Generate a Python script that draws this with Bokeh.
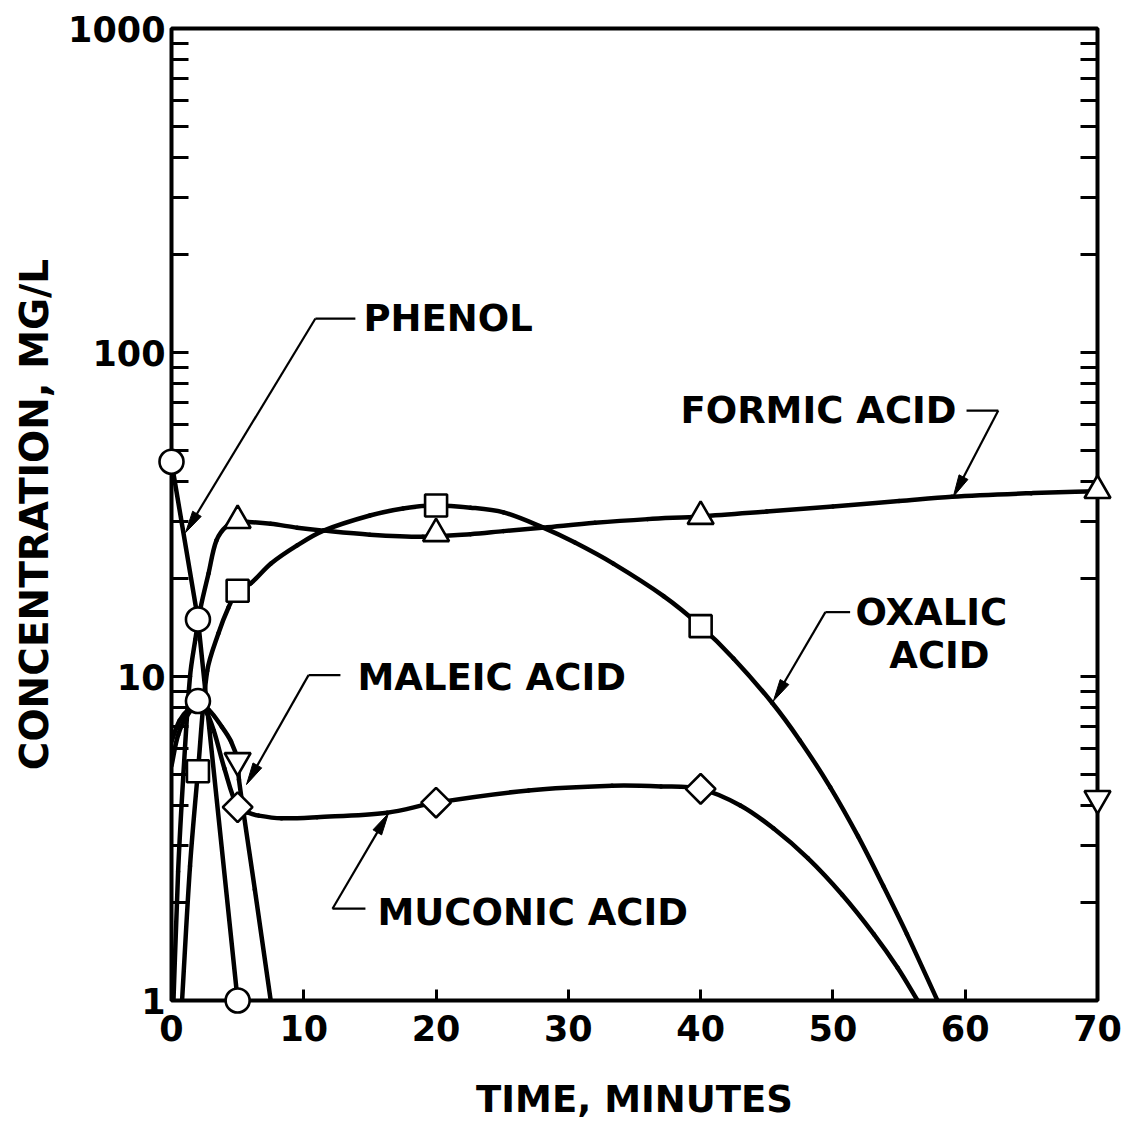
import numpy as np
from bokeh.plotting import figure
from bokeh.models import LogAxis, FixedTicker, PrintfTickFormatter, Range1d
from bokeh.core.properties import value
from bokeh.embed import file_html
from bokeh.resources import INLINE

# ---------------- data ----------------
time_ticks = [0, 10, 20, 30, 40, 50, 60, 70]
conc_ticks = [1, 10, 100, 1000]
conc_minor = [2, 3, 4, 5, 6, 7, 8, 9, 20, 30, 40, 50, 60, 70, 80, 90,
              200, 300, 400, 500, 600, 700, 800, 900]

# measured points (markers)
phenol_t = [0, 2, 5]
phenol_c = [46, 15, 1]
extra_circle_t = [2]
extra_circle_c = [8.4]
formic_t = [5, 20, 40, 70]
formic_c = [30.3, 27.6, 31.2, 37.5]
oxalic_t = [2, 5, 20, 40]
oxalic_c = [5.1, 18.4, 33.7, 14.3]
maleic_t = [5, 70]
maleic_c = [5.5, 4.2]
muconic_t = [5, 20, 40]
muconic_c = [3.95, 4.08, 4.5]

# curves
phenol_curve_t = [0, 2, 5]
phenol_curve_c = [46, 15, 1]
formic_curve_t = [0.15, 0.5, 0.9, 1.4, 1.8, 2.2, 2.8, 3.4, 4.2, 5, 5.8, 7.5, 9.5, 11.5,
                  15, 19, 22.6, 25.1, 28.1, 32, 36, 40, 45, 50, 55, 59, 65, 70]
formic_curve_c = [1, 2.5, 5, 10, 13, 16.3, 20.8, 26.3, 29.2, 30.0, 30.0, 29.6, 28.8, 28.2,
                  27.4, 27.0, 27.5, 28.1, 28.8, 29.8, 30.6, 31.2, 32.3, 33.5, 34.8, 35.9, 36.8, 37.3]
oxalic_curve_t = [0.8, 1.4, 2, 2.7, 3.55, 4.3, 5, 6, 7.5, 9.5, 11.5, 15, 17.5, 19.8, 22.6,
                  25.1, 28.1, 30.5, 33.4, 37.2, 40, 42.5, 45.4, 47.5, 49.8, 51.9, 53.8, 55.6, 57.9]
oxalic_curve_c = [1, 2.6, 5.1, 10.4, 13.6, 16.3, 18.4, 19.4, 22.3, 25.4, 28.2, 31.4, 33.0, 33.7, 33.2,
                  32.1, 28.8, 25.9, 22.3, 17.7, 14.3, 11.35, 8.3, 6.35, 4.55, 3.21, 2.26, 1.6, 1]
muconic_curve_t = [0, 0.5, 1.2, 2.0, 2.6, 3.2, 4.0, 5, 5.8, 6.6, 8.3, 11, 16.3, 20,
                   27, 33.3, 37, 40, 43, 45.5, 48.1, 50.7, 53.1, 54.9, 56.4]
muconic_curve_c = [5.3, 6.6, 7.6, 8.1, 7.8, 6.8, 5.2, 3.95, 3.8, 3.72, 3.65, 3.68, 3.8, 4.08,
                   4.45, 4.6, 4.58, 4.5, 4.0, 3.4, 2.75, 2.12, 1.6, 1.26, 1]
maleic_curve_t = [0, 0.6, 1.4, 2.0, 2.8, 3.8, 4.5, 5, 5.1, 6.3, 7.5]
maleic_curve_c = [6.3, 7.3, 8.0, 8.2, 7.9, 7.0, 6.3, 5.5, 4.8, 2.2, 1]

# ---------------- figure ----------------
W, H = 1126, 1124
BL, BR, BT, BB = 171, 29, 28, 124
FW, FH = W - BL - BR, H - BT - BB
XMAX = 70
DEC = 3

p = figure(width=W, height=H, x_range=Range1d(0, XMAX), y_range=Range1d(1, 1000),
           y_axis_type="log", output_backend="svg", toolbar_location=None,
           min_border_left=BL, min_border_right=BR, min_border_top=BT, min_border_bottom=BB)
p.grid.visible = False
p.background_fill_color = "white"
p.border_fill_color = "white"
p.outline_line_color = "black"
p.outline_line_width = 4

FONT = "DejaVu Sans"


def to_px(t, c):
    return np.asarray(t, float) / XMAX * FW, np.log10(np.asarray(c, float)) / DEC * FH


def to_data(X, Y):
    return np.asarray(X, float) / FW * XMAX, 10 ** (np.asarray(Y, float) / FH * DEC)


# bottom axis
xa = p.xaxis[0]
xa.ticker = FixedTicker(ticks=time_ticks, minor_ticks=[])
xa.axis_line_color = None
xa.major_tick_in = 11
xa.major_tick_out = 0
xa.major_tick_line_width = 3
xa.major_label_text_font = FONT
xa.major_label_text_font_style = "bold"
xa.major_label_text_font_size = "35px"
xa.major_label_text_color = "black"
xa.major_label_standoff = 14
xa.axis_label = "TIME, MINUTES"
xa.axis_label_text_font = FONT
xa.axis_label_text_font_style = "bold"
xa.axis_label_text_font_size = "37px"
xa.axis_label_text_color = "black"
xa.axis_label_standoff = 34

# left axis
ya = p.yaxis[0]
ya.ticker = FixedTicker(ticks=conc_ticks, minor_ticks=conc_minor)
ya.formatter = PrintfTickFormatter(format="%d")
ya.axis_line_color = None
ya.major_tick_in = 17
ya.major_tick_out = 0
ya.minor_tick_in = 17
ya.minor_tick_out = 0
ya.major_tick_line_width = 3
ya.minor_tick_line_width = 3
ya.major_label_text_font = FONT
ya.major_label_text_font_style = "bold"
ya.major_label_text_font_size = "35px"
ya.major_label_text_color = "black"
ya.major_label_standoff = 6
ya.axis_label = "CONCENTRATION, MG/L"
ya.axis_label_text_font = FONT
ya.axis_label_text_font_style = "bold"
ya.axis_label_text_font_size = "39px"
ya.axis_label_text_color = "black"
ya.axis_label_standoff = 8

# right axis (ticks only)
ra = LogAxis(ticker=FixedTicker(ticks=conc_ticks, minor_ticks=conc_minor))
ra.axis_line_color = None
ra.major_tick_in = 17
ra.major_tick_out = 0
ra.minor_tick_in = 17
ra.minor_tick_out = 0
ra.major_tick_line_width = 3
ra.minor_tick_line_width = 3
ra.major_label_text_font_size = "1px"
ra.major_label_text_alpha = 0
p.add_layout(ra, "right")

# ---------------- curves ----------------
LW = 4.5


def smooth_bezier(tt, cc):
    X, Y = to_px(tt, cc)
    P = np.stack([X, Y], 1)
    n = len(P)
    d = np.hypot(*(P[1:] - P[:-1]).T)
    m = np.zeros_like(P)
    m[0] = (P[1] - P[0]) / d[0]
    m[-1] = (P[-1] - P[-2]) / d[-1]
    for i in range(1, n - 1):
        m[i] = (P[i + 1] - P[i - 1]) / (d[i - 1] + d[i])
    c1 = P[:-1] + m[:-1] * d[:, None] / 3
    c2 = P[1:] - m[1:] * d[:, None] / 3
    x0, y0 = to_data(P[:-1, 0], P[:-1, 1])
    x1, y1 = to_data(P[1:, 0], P[1:, 1])
    cx0, cy0 = to_data(c1[:, 0], c1[:, 1])
    cx1, cy1 = to_data(c2[:, 0], c2[:, 1])
    p.bezier(x0=x0, y0=y0, x1=x1, y1=y1, cx0=cx0, cy0=cy0, cx1=cx1, cy1=cy1,
             line_color="black", line_width=LW, line_cap="round")


p.line(phenol_curve_t, phenol_curve_c, line_color="black", line_width=LW,
       line_join="round", line_cap="round")
for tt, cc in [(formic_curve_t, formic_curve_c), (oxalic_curve_t, oxalic_curve_c),
               (muconic_curve_t, muconic_curve_c), (maleic_curve_t, maleic_curve_c)]:
    smooth_bezier(tt, cc)

# ---------------- annotations (leader lines with arrows) ----------------
leaders = [
    # elbow_t, elbow_c, bar_end_t, tip_t, tip_c
    (10.88, 127.3, 13.9, 1.06, 27.8),     # phenol
    (62.5, 66.2, 60.1, 59.1, 35.9),       # formic
    (49.43, 15.8, 51.3, 45.5, 8.4),       # oxalic
    (10.36, 10.1, 12.77, 5.67, 4.64),     # maleic
    (12.17, 1.92, 14.66, 16.4, 3.78),     # muconic
]
heads_x, heads_y = [], []
for et, ec, bt, tt, tc in leaders:
    p.line([bt, et], [ec, ec], line_color="black", line_width=2.2)
    ex, ey = to_px(et, ec)
    tx, ty = to_px(tt, tc)
    dv = np.array([tx - ex, ty - ey])
    dv = dv / np.hypot(*dv)
    nv = np.array([-dv[1], dv[0]])
    L, w = 22, 5
    bx, by = tx - dv[0] * L, ty - dv[1] * L
    bt_, bc_ = to_data(bx + dv[0] * 2, by + dv[1] * 2)
    p.line([et, float(bt_)], [ec, float(bc_)], line_color="black", line_width=2.2)
    hx = [tx, bx + nv[0] * w, bx - nv[0] * w]
    hy = [ty, by + nv[1] * w, by - nv[1] * w]
    dx_, dy_ = to_data(hx, hy)
    heads_x.append(list(dx_))
    heads_y.append(list(dy_))
p.patches(heads_x, heads_y, fill_color="black", line_color="black", line_width=1)

labels_t = [14.51, 38.47, 51.7, 14.06, 15.57]
labels_c = [127.3, 66.2, 15.8, 9.93, 1.87]
labels_txt = ["PHENOL", "FORMIC ACID", "OXALIC", "MALEIC ACID", "MUCONIC ACID"]
p.text(labels_t, labels_c, text=labels_txt, text_font=value(FONT), text_font_style="bold",
       text_font_size="37px", text_baseline="middle", text_align="left", text_color="black")
p.text([58.05], [11.6], text=["ACID"], text_font=value(FONT), text_font_style="bold",
       text_font_size="37px", text_baseline="middle", text_align="center", text_color="black")

# ---------------- markers ----------------
MLW = 2.6


def markers(tt, cc, kind, size):
    kw = dict(size=size, fill_color="white", line_color="black", line_width=MLW, level="overlay")
    if kind == "diamond":
        p.scatter(tt, cc, marker="square", angle=np.pi / 4, **kw)
    else:
        p.scatter(tt, cc, marker=kind, **kw)


markers(phenol_t, phenol_c, "circle", 24)
markers(extra_circle_t, extra_circle_c, "circle", 24)
markers(oxalic_t, oxalic_c, "square", 22)
markers(formic_t, formic_c, "triangle", 26)
markers(maleic_t, maleic_c, "inverted_triangle", 26)
markers(muconic_t, muconic_c, "diamond", 21)

open("out.html", "w").write(file_html(p, INLINE))
